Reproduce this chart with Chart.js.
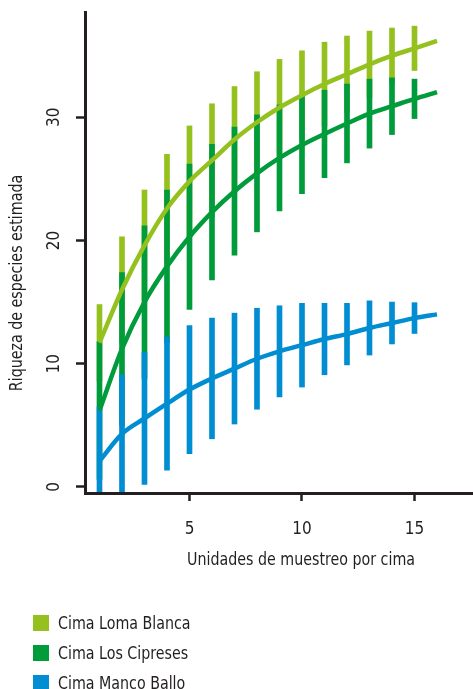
<!DOCTYPE html>
<html lang="es">
<head>
<meta charset="UTF-8">
<title>Riqueza de especies estimada por cima</title>
<script src="https://cdn.jsdelivr.net/npm/chart.js"></script>
<style>
  html, body { margin: 0; padding: 0; background: #fff; }
  #wrap { position: relative; width: 473px; height: 689px; overflow: hidden; }
  #grafico { position: absolute; left: 0; top: 0; }
  #leyenda { position: absolute; left: 33px; top: 613px; margin: 0; padding: 0; list-style: none; }
  #leyenda li { display: flex; align-items: center; height: 20px; margin-bottom: 10px; color: #231f20; white-space: nowrap; }
  #leyenda .caja { width: 16px; height: 16px; margin-right: 9px; flex: none; }
  #leyenda .txt { display: inline-block; transform-origin: left center; }
</style>
</head>
<body>
<div id="wrap">
  <canvas id="grafico" width="473" height="689"></canvas>
  <ul id="leyenda"></ul>
</div>
<script>
  // datos
  const unidades = [1, 2, 3, 4, 5, 6, 7, 8, 9, 10, 11, 12, 13, 14, 15, 16];
  const cimas = ['Cima Loma Blanca', 'Cima Los Cipreses', 'Cima Manco Ballo'];
  const colores = ['#95c11f', '#009b3a', '#008dd2'];

  // curva estimada (x = 1..16)
  const mediaLomaBlanca = [11.7, 16.0, 19.6, 22.6, 24.8, 26.5, 28.2, 29.6, 30.8, 31.8, 32.7, 33.5, 34.3, 35.0, 35.6, 36.2];
  const mediaLosCipreses = [6.2, 11.2, 15.0, 17.9, 20.3, 22.3, 24.0, 25.45, 26.7, 27.75, 28.65, 29.5, 30.3, 30.9, 31.5, 32.05];
  const mediaMancoBallo = [2.1, 4.3, 5.55, 6.75, 7.9, 8.8, 9.6, 10.4, 11.0, 11.5, 12.0, 12.4, 12.9, 13.3, 13.7, 14.0];

  // semiamplitud de las barras de error (x = 1..15)
  const errorLomaBlanca = [3.1, 4.3, 4.5, 4.4, 4.5, 4.6, 4.3, 4.1, 3.9, 3.6, 3.4, 3.1, 2.7, 2.25, 1.8];
  const errorLosCipreses = [5.6, 6.2, 6.2, 6.2, 5.9, 5.5, 5.2, 4.75, 4.3, 3.95, 3.55, 3.2, 2.8, 2.3, 1.6];
  const errorMancoBallo = [4.4, 4.8, 5.35, 5.4, 5.2, 4.9, 4.5, 4.1, 3.7, 3.4, 2.9, 2.5, 2.2, 1.7, 1.25];

  const ticksX = [5, 10, 15];
  const ticksY = [0, 10, 20, 30];
  const tituloX = 'Unidades de muestreo por cima';
  const tituloY = 'Riqueza de especies estimada';

  const negro = '#231f20';

  // fuente estrecha disponible
  function elegirFuente() {
    const c = document.createElement('canvas').getContext('2d');
    const candidatas = ['Liberation Sans Narrow', 'DejaVu Sans Condensed', 'Roboto Condensed', 'Open Sans Condensed', 'Roboto'];
    c.font = '40px monospace';
    const base = c.measureText(tituloX).width;
    for (const f of candidatas) {
      c.font = '40px "' + f + '", monospace';
      if (c.measureText(tituloX).width !== base) return f;
    }
    return 'sans-serif';
  }
  const familia = elegirFuente();
  const tam = 17;
  const fuente = { family: familia, size: tam };
  const medidor = document.createElement('canvas').getContext('2d');
  medidor.font = tam + 'px "' + familia + '"';
  // el original usa una letra mas estrecha: se comprime un poco en horizontal
  const compX = Math.min(1, 228 / medidor.measureText(tituloX).width);

  const medias = [mediaLomaBlanca, mediaLosCipreses, mediaMancoBallo];
  const errores = [errorLomaBlanca, errorLosCipreses, errorMancoBallo];

  const datasets = [];
  cimas.forEach((nombre, i) => {
    datasets.push({
      type: 'bar',
      label: nombre + ' (error)',
      data: errores[i].map((e, j) => ({ x: unidades[j], y: [medias[i][j] - e, medias[i][j] + e] })),
      backgroundColor: colores[i],
      borderWidth: 0,
      barThickness: 5,
      grouped: false,
      clip: 0,
      order: 10 - i
    });
  });
  cimas.forEach((nombre, i) => {
    datasets.push({
      type: 'line',
      label: nombre,
      data: medias[i].map((m, j) => ({ x: unidades[j], y: m })),
      borderColor: colores[i],
      borderWidth: 4.5,
      pointRadius: 0,
      fill: false,
      cubicInterpolationMode: 'monotone',
      order: 3 - i
    });
  });

  const titulosEjes = {
    id: 'titulosEjes',
    afterDraw(chart) {
      const { ctx, chartArea: a } = chart;
      ctx.save();
      ctx.fillStyle = negro;
      ctx.font = tam + 'px "' + familia + '"';
      ctx.textAlign = 'center';
      ctx.textBaseline = 'middle';
      ctx.translate(a.left + 216, a.bottom + 68);
      ctx.scale(compX, 1);
      ctx.fillText(tituloX, 0, 0);
      ctx.restore();
      ctx.save();
      ctx.fillStyle = negro;
      ctx.font = tam + 'px "' + familia + '"';
      ctx.textAlign = 'center';
      ctx.textBaseline = 'middle';
      ctx.translate(18, a.top + 271);
      ctx.rotate(-Math.PI / 2);
      ctx.scale(compX, 1);
      ctx.fillText(tituloY, 0, 0);
      ctx.restore();
    }
  };

  const rejilla = { drawOnChartArea: false, drawTicks: true, offset: false, tickWidth: 2.5, tickColor: negro };
  const borde = { display: true, color: negro, width: 3, z: 1 };

  new Chart(document.getElementById('grafico'), {
    type: 'line',
    data: { datasets },
    options: {
      responsive: false,
      animation: false,
      layout: { padding: { top: 12, left: 0, right: 0, bottom: 0 } },
      plugins: { legend: { display: false }, tooltip: { enabled: false } },
      scales: {
        x: {
          type: 'linear',
          min: 0.356,
          max: 17.6,
          offset: false,
          grid: { ...rejilla, tickLength: 8 },
          border: borde,
          ticks: { color: negro, font: fuente, padding: 18, maxRotation: 0, autoSkip: false },
          afterBuildTicks: s => { s.ticks = ticksX.map(v => ({ value: v })); },
          afterFit: s => { s.height = 196; s.paddingLeft = 0; s.paddingRight = 0; }
        },
        y: {
          type: 'linear',
          min: -0.5,
          max: 38.55,
          grid: { ...rejilla, tickLength: 9 },
          border: borde,
          ticks: { color: negro, font: fuente, padding: 12, minRotation: 90, maxRotation: 90, crossAlign: 'center' },
          afterBuildTicks: s => { s.ticks = ticksY.map(v => ({ value: v })); },
          afterFit: s => { s.width = 85; s.paddingTop = 0; s.paddingBottom = 0; }
        }
      }
    },
    plugins: [titulosEjes]
  });

  // leyenda
  const leyenda = document.getElementById('leyenda');
  cimas.forEach((nombre, i) => {
    const li = document.createElement('li');
    li.style.font = tam + 'px "' + familia + '"';
    const caja = document.createElement('span');
    caja.className = 'caja';
    caja.style.background = colores[i];
    const txt = document.createElement('span');
    txt.className = 'txt';
    txt.style.transform = 'scaleX(' + compX + ')';
    txt.textContent = nombre;
    li.appendChild(caja);
    li.appendChild(txt);
    leyenda.appendChild(li);
  });
</script>
</body>
</html>
